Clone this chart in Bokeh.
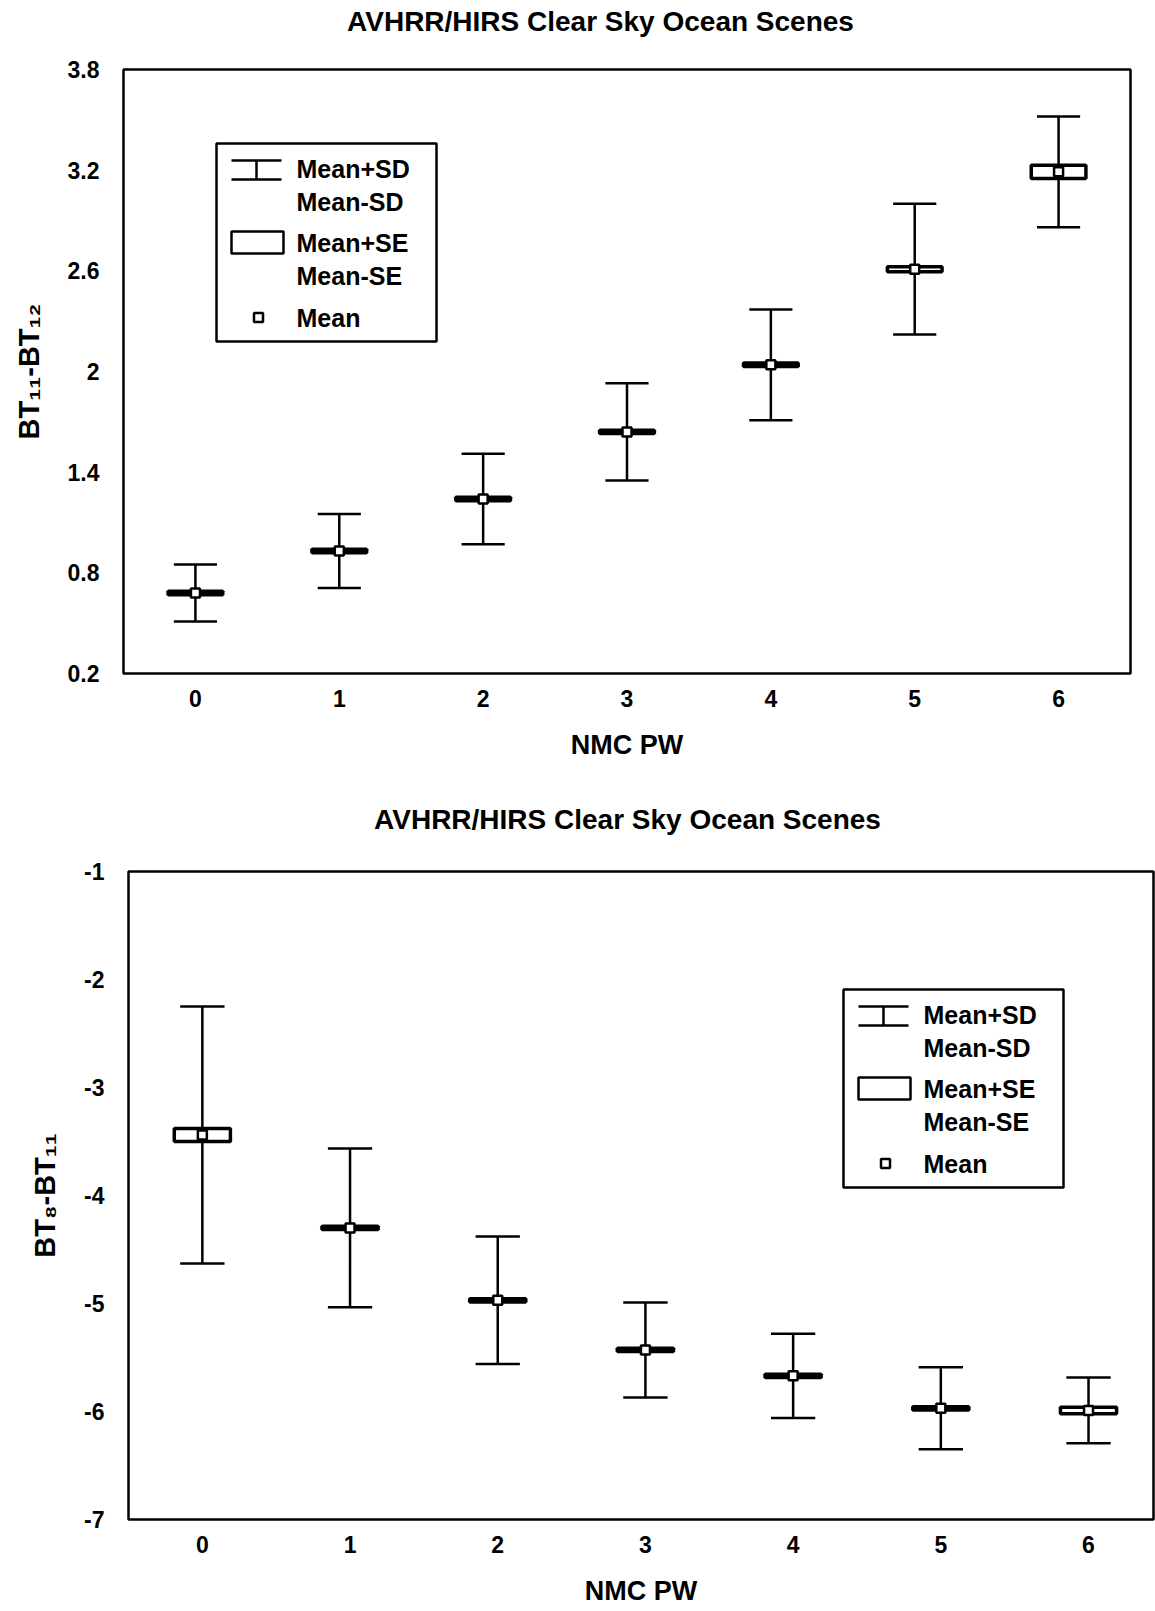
import numpy as np
from bokeh.plotting import figure
from bokeh.layouts import column, row
from bokeh.models import FixedTicker, Range1d
from bokeh.core.properties import value
from bokeh.embed import file_html
from bokeh.resources import INLINE

# ---------------- data ----------------
pw = [0, 1, 2, 3, 4, 5, 6]
x_tick_labels = ["0", "1", "2", "3", "4", "5", "6"]

# top panel: BT11 - BT12
top_mean = [0.68, 0.93, 1.24, 1.64, 2.04, 2.61, 3.19]
top_sd = [0.17, 0.22, 0.27, 0.29, 0.33, 0.39, 0.33]
top_se = [0.01, 0.01, 0.01, 0.01, 0.01, 0.015, 0.04]
top_yticks = [0.2, 0.8, 1.4, 2.0, 2.6, 3.2, 3.8]
top_ytick_labels = ["0.2", "0.8", "1.4", "2", "2.6", "3.2", "3.8"]

# bottom panel: BT8 - BT11
bot_mean = [-3.44, -4.30, -4.97, -5.43, -5.67, -5.97, -5.99]
bot_sd = [1.19, 0.735, 0.59, 0.44, 0.39, 0.38, 0.305]
bot_se = [0.06, 0.015, 0.015, 0.015, 0.015, 0.015, 0.03]
bot_yticks = [-1, -2, -3, -4, -5, -6, -7]
bot_ytick_labels = ["-1", "-2", "-3", "-4", "-5", "-6", "-7"]

title_text = "AVHRR/HIRS Clear Sky Ocean Scenes"
x_label = "NMC PW"
top_ylabel = "BT\u2081\u2081-BT\u2081\u2082"
bot_ylabel = "BT\u2088-BT\u2081\u2081"
legend_labels = ["Mean+SD", "Mean-SD", "Mean+SE", "Mean-SE", "Mean"]

FONT = "Liberation Sans"
CAP_HALF = 0.15
BOX_HALF = 0.19
W = 1155


def title_strip(height, cx, cy_from_top):
    """A bare figure (pixel coordinates) that only carries the title text."""
    t = figure(width=W, height=height, output_backend="svg",
               toolbar_location=None, x_range=Range1d(0, W),
               y_range=Range1d(0, height), x_axis_location=None,
               y_axis_location=None, min_border=0)
    t.grid.visible = False
    t.outline_line_color = None
    t.background_fill_color = "white"
    t.border_fill_color = "white"
    t.text(x=[cx], y=[height - cy_from_top], text=[title_text],
           text_font=value(FONT), text_font_style="bold",
           text_font_size="28px", text_color="black",
           text_align="center", text_baseline="middle")
    return t


def make_panel(mean, sd, se, yticks, ylabels, ylabel, yr, xr, height, mb,
               legend_px):
    p = figure(width=W, height=height, output_backend="svg",
               toolbar_location=None, x_range=Range1d(*xr), y_range=Range1d(*yr),
               min_border_left=mb[0], min_border_right=mb[1],
               min_border_top=mb[2], min_border_bottom=mb[3])
    p.background_fill_color = "white"
    p.border_fill_color = "white"
    p.grid.visible = False
    p.outline_line_color = "black"
    p.outline_line_width = 2.5

    for ax in (p.xaxis[0], p.yaxis[0]):
        ax.axis_line_color = None
        ax.major_tick_line_color = None
        ax.minor_tick_line_color = None
        ax.major_label_text_font = FONT
        ax.major_label_text_font_style = "bold"
        ax.major_label_text_font_size = "23px"
        ax.major_label_text_color = "black"
        ax.axis_label_text_font = FONT
        ax.axis_label_text_font_style = "bold"
        ax.axis_label_text_font_size = "27px"
        ax.axis_label_text_color = "black"

    p.xaxis.ticker = FixedTicker(ticks=pw)
    p.xaxis.major_label_overrides = {t: l for t, l in zip(pw, x_tick_labels)}
    p.xaxis.major_label_standoff = 10
    p.xaxis.axis_label = x_label
    p.xaxis.axis_label_standoff = 20

    p.yaxis.ticker = FixedTicker(ticks=yticks)
    p.yaxis.major_label_overrides = {t: l for t, l in zip(yticks, ylabels)}
    p.yaxis.major_label_standoff = 18
    p.yaxis.axis_label = ylabel
    p.yaxis.axis_label_text_font_size = "29px"
    p.yaxis.axis_label_standoff = 20

    fw = W - mb[0] - mb[1]
    fh = height - mb[2] - mb[3]

    x = np.array(pw, dtype=float)
    m = np.array(mean)
    s = np.array(sd)
    e = np.array(se)
    # SD whiskers
    p.segment(x0=x, y0=m - s, x1=x, y1=m + s, line_color="black", line_width=2.5)
    p.segment(x0=x - CAP_HALF, y0=m + s, x1=x + CAP_HALF, y1=m + s,
              line_color="black", line_width=2.5)
    p.segment(x0=x - CAP_HALF, y0=m - s, x1=x + CAP_HALF, y1=m - s,
              line_color="black", line_width=2.5)
    # SE boxes
    p.quad(left=x - BOX_HALF, right=x + BOX_HALF, bottom=m - e, top=m + e,
           fill_color="white", line_color="black", line_width=3.5)
    # Mean markers
    p.scatter(x=x, y=m, marker="square", size=9, fill_color="white",
              line_color="black", line_width=2.5)

    # ---- legend, laid out in frame pixels and converted to data ----
    def X(px):
        return xr[0] + (legend_px[0] + px) / fw * (xr[1] - xr[0])

    def Y(py):
        return yr[1] - (legend_px[1] + py) / fh * (yr[1] - yr[0])

    p.quad(left=[X(0)], right=[X(220)], top=[Y(0)], bottom=[Y(198)],
           fill_color="white", line_color="black", line_width=2.5)
    # I-beam symbol
    p.segment(x0=[X(15), X(15), X(40)], y0=[Y(17), Y(36), Y(17)],
              x1=[X(65), X(65), X(40)], y1=[Y(17), Y(36), Y(36)],
              line_color="black", line_width=2.5)
    # box symbol
    p.quad(left=[X(15)], right=[X(67)], top=[Y(88)], bottom=[Y(110)],
           fill_color="white", line_color="black", line_width=2.5)
    # mean symbol
    p.scatter(x=[X(42)], y=[Y(174)], marker="square", size=9,
              fill_color="white", line_color="black", line_width=2.5)
    p.text(x=[X(80)] * 5,
           y=[Y(25), Y(58), Y(99), Y(132), Y(174)],
           text=legend_labels, text_font=value(FONT), text_font_style="bold",
           text_font_size="25px", text_baseline="middle", text_align="left",
           text_color="black")
    return p


# page layout (pixels): title strip 0-42, top plot 42-770 (frame 69-673),
# title strip 770-850, bottom plot 850-1611 (frame 871-1519)
t1 = title_strip(42, 600, 21)
p1 = make_panel(top_mean, top_sd, top_se, top_yticks, top_ytick_labels,
                top_ylabel, (0.2, 3.8), (-0.5, 6.5), 728,
                (123, 25, 27, 97), (93, 74))
t2 = title_strip(80, 627, 49)
p2 = make_panel(bot_mean, bot_sd, bot_se, bot_yticks, bot_ytick_labels,
                bot_ylabel, (-7, -1), (-0.5, 6.44), 761,
                (128, 2, 21, 92), (715, 118))

layout = column(row(t1), row(p1), row(t2), row(p2), spacing=0)
open("out.html", "w").write(file_html(layout, INLINE))
